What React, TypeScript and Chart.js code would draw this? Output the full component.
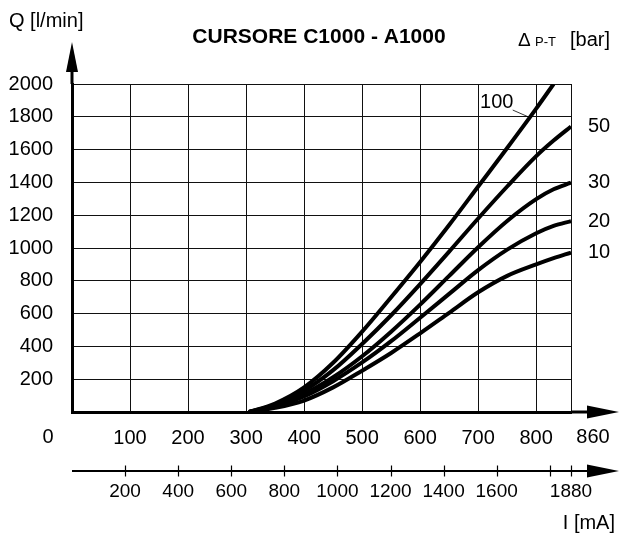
import React, { useEffect, useRef } from 'react';
import { Chart, registerables } from 'chart.js';

Chart.register(...registerables);

// Current I [mA] expressed on the command axis (0..860)
const currentX = [305, 350, 400, 450, 500, 550, 600, 650, 700, 750, 800, 830, 860];
// Flow Q [l/min] for each pressure drop Δp P-T [bar]
const q100 = [0, 52, 150, 300, 490, 700, 915, 1140, 1375, 1610, 1850, 2000, null];
const q50 = [0, 45, 130, 255, 415, 590, 780, 978, 1180, 1375, 1560, 1655, 1741];
const q30 = [0, 38, 110, 212, 340, 490, 655, 830, 1005, 1165, 1298, 1358, 1398];
const q20 = [0, 32, 95, 188, 302, 432, 575, 720, 865, 990, 1090, 1135, 1164];
const q10 = [0, 25, 70, 150, 252, 360, 480, 605, 730, 830, 900, 938, 972];

const seriesLabels = ['100', '50', '30', '20', '10'];
const seriesValues = [q100, q50, q30, q20, q10];

const xTickValues = [0, 100, 200, 300, 400, 500, 600, 700, 800, 860];
const mATickValues = [200, 400, 600, 800, 1000, 1200, 1400, 1600, 1800, 1880];
const mALabelValues = [200, 400, 600, 800, 1000, 1200, 1400, 1600, 1880];

const TITLE = 'CURSORE C1000 - A1000';
const Y_TITLE = 'Q [l/min]';
const X2_TITLE = 'I [mA]';

const FONT = '"Liberation Sans", Arial, Helvetica, sans-serif';

const overlay = {
  id: 'overlay',
  afterDraw(chart: any) {
    const { ctx } = chart;
    const xs = chart.scales.x;
    const ys = chart.scales.y;
    const ms = chart.scales.mA;
    const x0 = xs.getPixelForValue(0);
    const y0 = ys.getPixelForValue(0);
    const xEnd = xs.getPixelForValue(860);
    ctx.save();
    ctx.fillStyle = '#000';
    ctx.strokeStyle = '#000';

    // Y arrow
    ctx.lineWidth = 3;
    ctx.beginPath();
    ctx.moveTo(x0, ys.top);
    ctx.lineTo(x0, 66);
    ctx.stroke();
    ctx.beginPath();
    ctx.moveTo(x0, 42);
    ctx.lineTo(x0 - 6, 72);
    ctx.lineTo(x0 + 6, 72);
    ctx.closePath();
    ctx.fill();

    // X arrow
    ctx.beginPath();
    ctx.moveTo(xEnd, y0);
    ctx.lineTo(592, y0);
    ctx.stroke();
    ctx.beginPath();
    ctx.moveTo(587, y0 - 6.5);
    ctx.lineTo(587, y0 + 6.5);
    ctx.lineTo(619, y0);
    ctx.closePath();
    ctx.fill();

    // X labels 0 and 860
    ctx.font = `20px ${FONT}`;
    ctx.textAlign = 'center';
    ctx.textBaseline = 'middle';
    ctx.fillText('0', x0 - 24, 437);
    ctx.fillText('860', xEnd + 22, 437);

    // mA axis
    const yM = 471;
    ctx.lineWidth = 2;
    ctx.beginPath();
    ctx.moveTo(ms.getPixelForValue(0), yM);
    ctx.lineTo(592, yM);
    ctx.stroke();
    ctx.beginPath();
    ctx.moveTo(587, yM - 6.5);
    ctx.lineTo(587, yM + 6.5);
    ctx.lineTo(619, yM);
    ctx.closePath();
    ctx.fill();
    ctx.lineWidth = 1.2;
    mATickValues.forEach((v) => {
      const px = Math.round(ms.getPixelForValue(v)) + 0.5;
      ctx.beginPath();
      ctx.moveTo(px, yM - 5.5);
      ctx.lineTo(px, yM + 5.5);
      ctx.stroke();
    });
    ctx.font = `19px ${FONT}`;
    mALabelValues.forEach((v) => {
      ctx.fillText(String(v), ms.getPixelForValue(v), 492);
    });
    ctx.font = `20px ${FONT}`;
    ctx.textAlign = 'right';
    ctx.fillText(X2_TITLE, 615, 523);

    // Titles
    ctx.textAlign = 'left';
    ctx.textBaseline = 'alphabetic';
    ctx.fillText(Y_TITLE, 9, 27);
    ctx.font = `bold 21px ${FONT}`;
    ctx.textAlign = 'center';
    ctx.fillText(TITLE, 319, 43);
    ctx.textAlign = 'left';
    ctx.font = `19px ${FONT}`;
    ctx.fillText('\u0394', 518, 46);
    ctx.font = `13px ${FONT}`;
    ctx.fillText('P-T', 535, 46);
    ctx.font = `20px ${FONT}`;
    ctx.fillText('[bar]', 570, 46);

    // Curve labels
    ctx.font = `20px ${FONT}`;
    ctx.textBaseline = 'middle';
    seriesValues.forEach((vals, i) => {
      if (i === 0) return;
      const last = vals[vals.length - 1] as number;
      ctx.fillText(seriesLabels[i], xEnd + 17, ys.getPixelForValue(last));
    });
    // label 100 with leader line
    const lx = xs.getPixelForValue(732);
    const ly = ys.getPixelForValue(1890);
    ctx.textAlign = 'center';
    ctx.fillText(seriesLabels[0], lx, ly);
    ctx.lineWidth = 0.8;
    ctx.beginPath();
    ctx.moveTo(lx + 16, ly + 8);
    ctx.lineTo(lx + 32, ly + 15);
    ctx.stroke();

    ctx.restore();
  },
};

export default function App() {
  const canvasRef = useRef<HTMLCanvasElement | null>(null);
  useEffect(() => {
    if (!canvasRef.current) return;
    const datasets = seriesValues.map((vals, i) => ({
      label: seriesLabels[i],
      data: currentX.map((x, j) => ({ x, y: vals[j] })),
      borderColor: '#000',
      borderWidth: 4,
      pointRadius: 0,
      fill: false,
      tension: 0.4,
      cubicInterpolationMode: 'monotone' as const,
      spanGaps: false,
    }));
    const chart = new Chart(canvasRef.current, {
      type: 'line',
      data: { datasets },
      options: {
        responsive: false,
        animation: false,
        devicePixelRatio: 1,
        layout: { padding: { top: 84, right: 49, left: 0, bottom: 0 } },
        plugins: {
          legend: { display: false },
          title: { display: false },
          tooltip: { enabled: false },
        },
        scales: {
          x: {
            type: 'linear',
            position: 'bottom',
            min: 0,
            max: 860,
            afterBuildTicks: (s: any) => {
              s.ticks = xTickValues.map((v) => ({ value: v }));
            },
            afterFit: (s: any) => {
              s.height = 121;
            },
            ticks: {
              autoSkip: false,
              maxRotation: 0,
              padding: 14,
              color: '#000',
              font: { size: 20, family: FONT },
              callback: (v: any) => (v === 0 || v === 860 ? '' : String(v)),
            },
            grid: { color: '#111', lineWidth: 1, drawTicks: false },
            border: { display: true, color: '#000', width: 3 },
          },
          mA: {
            type: 'linear',
            axis: 'x',
            position: 'bottom',
            min: 0,
            max: 1880,
            display: false,
          },
          y: {
            type: 'linear',
            min: 0,
            max: 2000,
            afterFit: (s: any) => {
              s.width = 72;
            },
            ticks: {
              stepSize: 200,
              padding: 19,
              color: '#000',
              font: { size: 20, family: FONT },
              callback: (v: any) => (v === 0 ? '' : String(v)),
            },
            grid: { color: '#111', lineWidth: 1, drawTicks: false },
            border: { display: true, color: '#000', width: 3 },
          },
        },
      },
      plugins: [overlay],
    } as any);
    return () => chart.destroy();
  }, []);
  return (
    <div style={{ position: 'fixed', left: 0, top: 0, width: 620, height: 533, background: '#fff' }}>
      <canvas ref={canvasRef} width={620} height={533} />
    </div>
  );
}
